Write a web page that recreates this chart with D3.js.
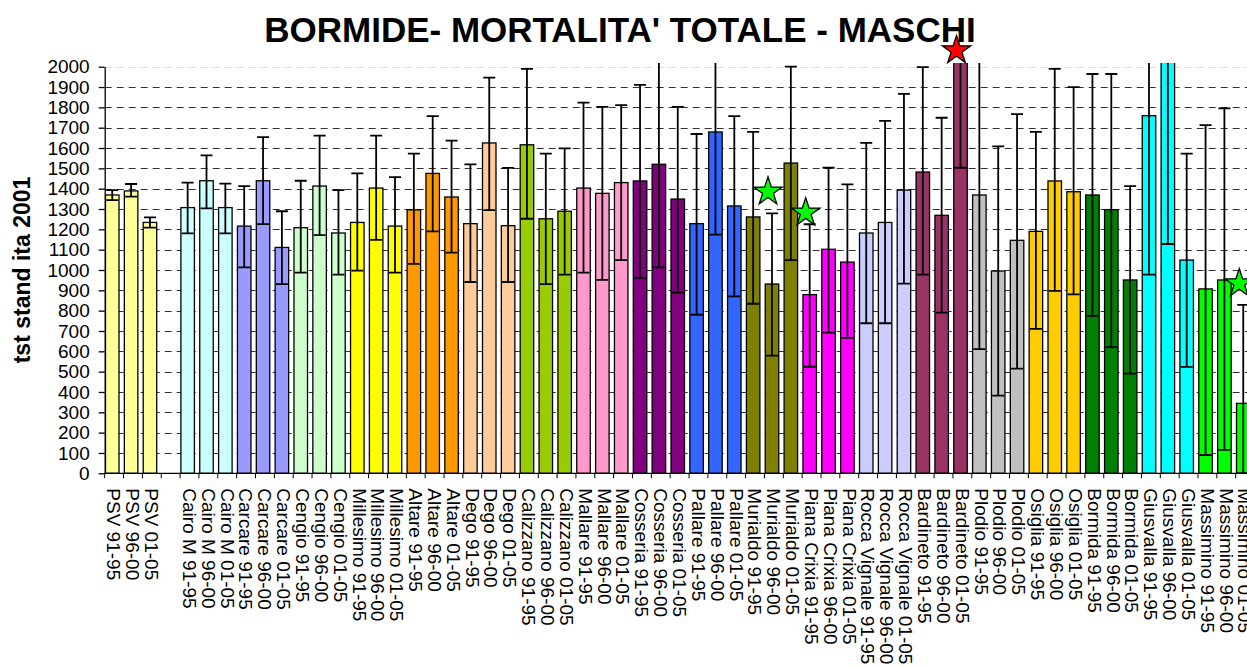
<!DOCTYPE html>
<html>
<head>
<meta charset="utf-8">
<script src="https://cdn.jsdelivr.net/npm/d3@7"></script>
<style>
  body { margin: 0; background: #fff; }
  svg { font-family: "Liberation Sans", Arial, sans-serif; }
</style>
</head>
<body>
<div id="chart"></div>
<script>
// towns and periods
var towns = ["PSV", "Cairo M", "Carcare", "Cengio", "Millesimo", "Altare", "Dego", "Calizzano",
  "Mallare", "Cosseria", "Pallare", "Murialdo", "Piana Crixia", "Rocca Vignale", "Bardineto",
  "Plodio", "Osiglia", "Bormida", "Giusvalla", "Massimino"];
var periods = ["91-95", "96-00", "01-05"];

// standardized rate per town, one value per period
var rates = [
  [1369, 1389, 1234], [1307, 1439, 1307], [1216, 1439, 1111], [1208, 1413, 1182],
  [1234, 1403, 1216], [1296, 1475, 1359], [1228, 1625, 1218], [1616, 1252, 1289],
  [1403, 1377, 1430], [1438, 1520, 1349], [1228, 1679, 1315], [1261, 931, 1526],
  [879, 1102, 1039], [1182, 1234, 1393], [1482, 1269, 2100], [1369, 995, 1146],
  [1190, 1438, 1385], [1369, 1297, 951], [1759, 2300, 1049], [907, 951, 344]
];
var lowerCI = [
  [1344, 1361, 1208], [1180, 1303, 1180], [1013, 1226, 931], [987, 1172, 977],
  [997, 1148, 987], [1030, 1190, 1085], [941, 1295, 941], [1252, 931, 977],
  [987, 951, 1049], [961, 1013, 889], [780, 1174, 870], [834, 579, 1049],
  [524, 692, 666], [738, 738, 933], [977, 790, 1503], [611, 382, 515],
  [710, 897, 880], [774, 621, 490], [977, 1128, 523], [90, 115, 0]
];
var upperCI = [
  [1393, 1423, 1259], [1430, 1564, 1425], [1413, 1654, 1289], [1439, 1661, 1393],
  [1475, 1661, 1457], [1572, 1757, 1636], [1520, 1946, 1502], [1989, 1572, 1598],
  [1823, 1802, 1811], [1911, 2030, 1802], [1669, 2185, 1757], [1679, 1279, 2000],
  [1225, 1503, 1421], [1625, 1734, 1866], [1998, 1749, 2700], [2130, 1608, 1767],
  [1679, 1989, 1900], [1964, 1964, 1413], [2540, 3470, 1572], [1713, 1795, 828]
];
var townColors = ["#FFFF99", "#CCFFFF", "#9999FF", "#CCFFCC", "#FFFF00", "#FF9900", "#FFCC99", "#99CC00",
  "#FF99CC", "#800080", "#3366FF", "#808000", "#FF00FF", "#CCCCFF", "#993366",
  "#C0C0C0", "#FFCC00", "#008000", "#00FFFF", "#00FF00"];

// star markers
var starLabels = ["Murialdo 96-00", "Piana Crixia 91-95", "Bardineto 01-05", "Massimino 01-05"];
var starValues = [1385, 1282, 2080, 934];
var starColors = ["#00FF00", "#00FF00", "#FF0000", "#00FF00"];

var yTicks = d3.range(0, 2001, 100);

var width = 1247, height = 667;
var left = 104.7, step = 18.85;
var GAP = "gap";

// flatten data
var data = [];
towns.forEach(function(t, i) {
  periods.forEach(function(p, j) {
    data.push({label: t + " " + p, town: i, value: rates[i][j], lo: lowerCI[i][j], hi: upperCI[i][j]});
  });
});
var slots = data.map(function(d) { return d.label; });
slots.splice(3, 0, GAP);

var svg = d3.select("#chart").append("svg")
  .attr("width", width)
  .attr("height", height);

var xScale = d3.scaleBand()
  .domain(slots)
  .range([left, left + slots.length * step])
  .padding(0);

var yScale = d3.scaleLinear()
  .domain([0, 2000])
  .range([473.3, 66.7]);

svg.append("defs").append("clipPath").attr("id", "plotClip")
  .append("rect")
  .attr("x", left).attr("y", 63)
  .attr("width", width - left).attr("height", yScale(0) - 63);

// gridlines
svg.append("g")
  .selectAll("line")
  .data(yTicks.filter(function(v) { return v > 0; }))
  .enter().append("line")
  .attr("x1", left).attr("x2", width)
  .attr("y1", function(d) { return Math.round(yScale(d)) + 0.5; })
  .attr("y2", function(d) { return Math.round(yScale(d)) + 0.5; })
  .attr("stroke", function(d) { return d === 2000 ? "#ddd" : "#333"; })
  .attr("stroke-width", 1)
  .attr("stroke-dasharray", "7,5");

var plot = svg.append("g").attr("clip-path", "url(#plotClip)");

var barW = 13.5, barOff = 0.8;

plot.selectAll("rect.bar")
  .data(data)
  .enter().append("rect")
  .attr("class", "bar")
  .attr("x", function(d) { return xScale(d.label) + barOff; })
  .attr("y", function(d) { return yScale(d.value); })
  .attr("width", barW)
  .attr("height", function(d) { return yScale(0) - yScale(d.value); })
  .attr("fill", function(d) { return townColors[d.town]; })
  .attr("stroke", "#000")
  .attr("stroke-width", 1.3);

// error bars
var err = plot.selectAll("g.err")
  .data(data)
  .enter().append("g")
  .attr("class", "err")
  .attr("transform", function(d) { return "translate(" + (xScale(d.label) + barOff + barW / 2) + ",0)"; });

err.append("line")
  .attr("y1", function(d) { return yScale(d.lo); })
  .attr("y2", function(d) { return yScale(d.hi); })
  .attr("stroke", "#000").attr("stroke-width", 1.8);

err.selectAll("line.cap")
  .data(function(d) { return [d.lo, d.hi]; })
  .enter().append("line")
  .attr("class", "cap")
  .attr("x1", -6).attr("x2", 6)
  .attr("y1", function(v) { return yScale(v); })
  .attr("y2", function(v) { return yScale(v); })
  .attr("stroke", "#000").attr("stroke-width", 1.8);

// y axis
var yAxis = svg.append("g")
  .attr("transform", "translate(" + left + ",0)")
  .call(d3.axisLeft(yScale).tickValues(yTicks).tickFormat(d3.format("d"))
    .tickSize(6).tickSizeOuter(0).tickPadding(9));
yAxis.selectAll("text").style("font-size", "19px").attr("fill", "#000");
yAxis.selectAll("line, path").attr("stroke", "#000").attr("stroke-width", 1.3);

// x axis: line, boundary ticks, rotated labels
var xAxis = svg.append("g")
  .attr("transform", "translate(0," + yScale(0) + ")");
xAxis.append("line")
  .attr("x1", left).attr("x2", width)
  .attr("stroke", "#000").attr("stroke-width", 1.3);
xAxis.selectAll("line.tick")
  .data(slots)
  .enter().append("line")
  .attr("class", "tick")
  .attr("x1", function(d) { return xScale(d); })
  .attr("x2", function(d) { return xScale(d); })
  .attr("y1", 0).attr("y2", 5)
  .attr("stroke", "#000").attr("stroke-width", 1);
xAxis.selectAll("text")
  .data(slots.filter(function(d) { return d !== GAP; }))
  .enter().append("text")
  .attr("transform", function(d) { return "translate(" + (xScale(d) + step / 2) + ",15) rotate(90)"; })
  .attr("dy", "0.35em")
  .style("font-size", "19px")
  .text(function(d) { return d; });

// stars
svg.selectAll("path.star")
  .data(starLabels)
  .enter().append("path")
  .attr("class", "star")
  .attr("transform", function(d, i) {
    return "translate(" + (xScale(d) + barOff + barW / 2 - 4) + "," + yScale(starValues[i]) + ")";
  })
  .attr("d", d3.symbol().type(d3.symbolStar).size(250))
  .attr("fill", function(d, i) { return starColors[i]; })
  .attr("stroke", "#000")
  .attr("stroke-width", 1.3);

// titles
svg.append("text")
  .attr("x", 620).attr("y", 41.5)
  .attr("text-anchor", "middle")
  .style("font-size", "35px").style("font-weight", "bold")
  .text("BORMIDE- MORTALITA' TOTALE - MASCHI");

svg.append("text")
  .attr("transform", "translate(30,270) rotate(-90)")
  .attr("text-anchor", "middle")
  .style("font-size", "23px").style("font-weight", "bold")
  .text("tst stand ita 2001");
</script>
</body>
</html>
